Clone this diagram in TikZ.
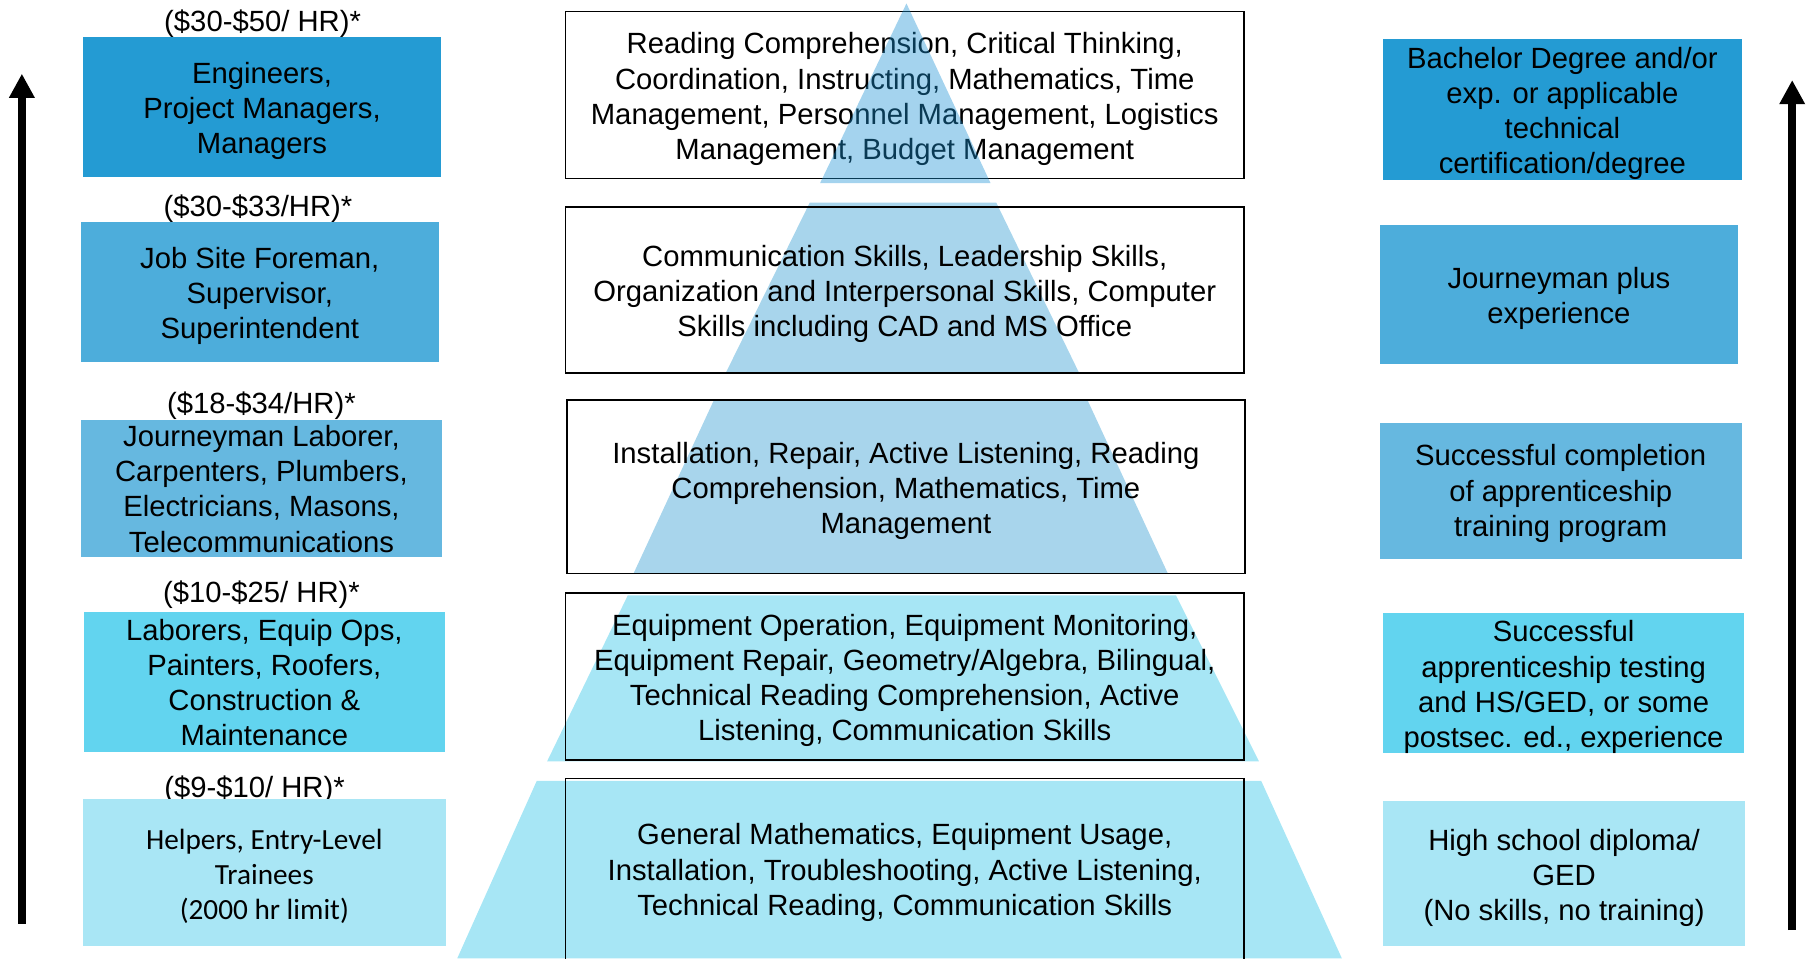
\documentclass[tikz,border=0pt]{standalone}
\usepackage{fontspec}
\setmainfont{Liberation Sans}
\newfontfamily\calfont{Carlito}
\usetikzlibrary{arrows.meta}
\definecolor{cA}{HTML}{249BD3}
\definecolor{cB}{HTML}{4DADDB}
\definecolor{cC}{HTML}{66B8E0}
\definecolor{cD}{HTML}{62D4EF}
\definecolor{cE}{HTML}{A9E6F5}
\definecolor{pyrA}{HTML}{A8D5EC}
\definecolor{pyrB}{HTML}{A7E6F5}
\definecolor{triC}{HTML}{1B91D4}
\begin{document}
\begin{tikzpicture}[x=1pt,y=-1pt,
  every node/.style={font=\fontsize{25.4}{30.5}\selectfont, align=center, inner sep=0pt, text=black},
  cbox/.style={rectangle, draw=none},
  mbox/.style={rectangle, draw=black, line width=1.5pt, minimum width=589pt},
  boxtext/.style={yshift=-3.5pt},
  price/.style={yshift=-2pt},
  uparrow/.style={line width=6.5pt, -{Triangle[length=21pt,width=21pt]}}]
\useasboundingbox (0,0) rectangle (1568,832);

% pyramid (lower sections, below text)
\fill[pyrA] (703,176) -- (865,176) -- (937,324) -- (630,324) -- cycle;
\fill[pyrA] (620,347) -- (944,347) -- (1014,498) -- (550,498) -- cycle;
\fill[pyrB] (545,517) -- (1021,517) -- (1093,661) -- (475,661) -- cycle;
\fill[pyrB] (466,678) -- (1095,678) -- (1165,832) -- (397,832) -- cycle;

% left column
\node[price] (p1) at (228,18.5) {(\$30-\$50/ HR)*};
\node[cbox, fill=cA, minimum width=311pt, minimum height=122pt] (l1) at (227.5,93) {};
\node[boxtext] (l1t) at (l1) {Engineers,\\ Project Managers,\\ Managers};
\node[price] (p2) at (224,179.5) {(\$30-\$33/HR)*};
\node[cbox, fill=cB, minimum width=311pt, minimum height=121pt] (l2) at (225.5,253.5) {};
\node[boxtext] (l2t) at (l2) {Job Site Foreman,\\ Supervisor,\\ Superintendent};
\node[price] (p3) at (227,350) {(\$18-\$34/HR)*};
\node[cbox, fill=cC, minimum width=314pt, minimum height=119pt] (l3) at (227,424) {};
\node[boxtext, yshift=3pt] (l3t) at (l3) {Journeyman Laborer,\\ Carpenters, Plumbers,\\ Electricians, Masons,\\ Telecommunications};
\node[price] (p4) at (227,514.5) {(\$10-\$25/ HR)*};
\node[cbox, fill=cD, minimum width=313pt, minimum height=122pt] (l4) at (229.5,592) {};
\node[boxtext, yshift=3pt] (l4t) at (l4) {Laborers, Equip Ops,\\ Painters, Roofers,\\ Construction \&\\ Maintenance};
\node[price] (p5) at (221,683.5) {(\$9-\$10/ HR)*};
\node[cbox, fill=cE, minimum width=315pt, minimum height=128pt] (l5) at (229.5,757.5) {};
\node[boxtext, font=\calfont\fontsize{25.4}{30.5}\selectfont] (l5t) at (l5) {Helpers, Entry-Level\\ Trainees\\ (2000 hr limit)};

% right column
\node[cbox, fill=cA, minimum width=311pt, minimum height=122pt] (r1) at (1356.5,95) {};
\node[boxtext] (r1t) at (r1) {Bachelor Degree and/or\\ exp. or applicable\\ technical\\ certification/degree};
\node[cbox, fill=cB, minimum width=311pt, minimum height=121pt] (r2) at (1353.5,255.5) {};
\node[boxtext] (r2t) at (r2) {Journeyman plus\\ experience};
\node[cbox, fill=cC, minimum width=314pt, minimum height=118pt] (r3) at (1355,426) {};
\node[boxtext, yshift=1pt] (r3t) at (r3) {Successful completion\\ of apprenticeship\\ training program};
\node[cbox, fill=cD, minimum width=313pt, minimum height=122pt] (r4) at (1357.5,593) {};
\node[boxtext] (r4t) at (r4) {Successful\\ apprenticeship testing\\ and HS/GED, or some\\ postsec. ed., experience};
\node[cbox, fill=cE, minimum width=314pt, minimum height=126pt] (r5) at (1358,758.5) {};
\node[boxtext] (r5t) at (r5) {High school diploma/\\ GED\\ (No skills, no training)};

% middle column
\node[mbox, minimum height=145pt] (m1) at (785.5,82.5) {};
\node[boxtext] (m1t) at (m1) {Reading Comprehension, Critical Thinking,\\ Coordination, Instructing, Mathematics, Time\\ Management, Personnel Management, Logistics\\ Management, Budget Management};
\node[mbox, minimum height=144pt] (m2) at (785.5,252) {};
\node[boxtext] (m2t) at (m2) {Communication Skills, Leadership Skills,\\ Organization and Interpersonal Skills, Computer\\ Skills including CAD and MS Office};
\node[mbox, minimum height=151pt] (m3) at (786.5,422.5) {};
\node[boxtext] (m3t) at (m3) {Installation, Repair, Active Listening, Reading\\ Comprehension, Mathematics, Time\\ Management};
\node[mbox, minimum height=145pt] (m4) at (785.5,587.5) {};
\node[boxtext] (m4t) at (m4) {Equipment Operation, Equipment Monitoring,\\ Equipment Repair, Geometry/Algebra, Bilingual,\\ Technical Reading Comprehension, Active\\ Listening, Communication Skills};
\coordinate (m5bl) at (491,834);
\coordinate (m5tl) at (491,676);
\coordinate (m5tr) at (1080,676);
\coordinate (m5br) at (1080,834);
\draw[line width=1.5pt] (m5bl) -- (m5tl) -- (m5tr) -- (m5br);
\node[boxtext, yshift=2pt] (m5) at (785.5,756) {General Mathematics, Equipment Usage,\\ Installation, Troubleshooting, Active Listening,\\ Technical Reading, Communication Skills};

% top triangle overlaid translucently
\fill[triC, fill opacity=0.4] (787,3) -- (860,159) -- (712,159) -- cycle;

% arrows
\coordinate (la0) at (19,802);
\coordinate (la1) at (19,64);
\coordinate (ra0) at (1556,807.5);
\coordinate (ra1) at (1556,69.5);
\draw[uparrow] (la0) -- (la1);
\draw[uparrow] (ra0) -- (ra1);
\end{tikzpicture}
\end{document}
